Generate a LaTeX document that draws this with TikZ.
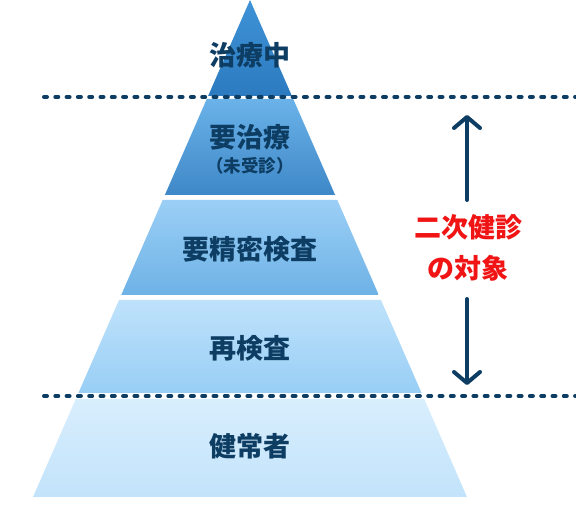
\documentclass[tikz,border=0pt]{standalone}
\usepackage{fontspec}
\newfontfamily\jp{Noto Sans CJK JP}
\usetikzlibrary{arrows.meta}
\definecolor{navy}{HTML}{0D3D63}
\definecolor{redtxt}{HTML}{F01414}
\definecolor{aT}{HTML}{3F92D6}\definecolor{aB}{HTML}{2C7BC0}
\definecolor{bT}{HTML}{6AB2E8}\definecolor{bB}{HTML}{3F88C8}
\definecolor{cT}{HTML}{9BCFF6}\definecolor{cB}{HTML}{6EB2E6}
\definecolor{dT}{HTML}{BFE2FB}\definecolor{dB}{HTML}{98CEF5}
\definecolor{eT}{HTML}{D8EEFD}\definecolor{eB}{HTML}{C2E3FB}
\tikzset{
  lbl/.style={font=\jp\bfseries\fontsize{27}{30}\selectfont, text=navy, inner sep=0pt},
  sublbl/.style={font=\jp\bfseries\fontsize{17.5}{20}\selectfont, text=navy, inner sep=0pt},
  redlbl/.style={font=\jp\bfseries\fontsize{27}{30}\selectfont, text=redtxt, inner sep=0pt},
  dotline/.style={navy, line width=4pt, line cap=round, dash pattern=on 3pt off 8.3pt},
  bigarrow/.style={navy, line width=4pt, line cap=round,
    -{Straight Barb[length=11pt,width=26pt,line cap=round,line join=round]}}
}
\newcommand{\layer}[4]{%
  \shade[top color=#3, bottom color=#4]
    ({250-0.43662*#1},#1) -- ({250+0.43662*#1},#1) --
    ({250+0.43662*#2},#2) -- ({250-0.43662*#2},#2) -- cycle;}
\begin{document}
\begin{tikzpicture}[x=1pt,y=-1pt]
\useasboundingbox (0,0) rectangle (576,526);
\layer{0}{96}{aT}{aB}
\layer{99}{195}{bT}{bB}
\layer{200}{295}{cT}{cB}
\layer{300}{393}{dT}{dB}
\layer{399}{497}{eT}{eB}
% dotted lines
\coordinate (d1a) at (44,97);  \coordinate (d1b) at (576,97);
\coordinate (d2a) at (44,396); \coordinate (d2b) at (576,396);
\draw[dotline] (d1a) -- (d1b);
\draw[dotline] (d2a) -- (d2b);
% layer labels
\node[lbl] (l1) at (250,55) {治療中};
\node[lbl] (l2) at (250,137) {要治療};
\node[sublbl] (l2s) at (250,166) {（未受診）};
\node[lbl] (l3) at (250,249) {要精密検査};
\node[lbl] (l4) at (250,348) {再検査};
\node[lbl] (l5) at (250,446) {健常者};
% right side
\node[redlbl] (r1) at (468,227) {二次健診};
\node[redlbl] (r2) at (468,268) {の対象};
\coordinate (upS) at (467,200); \coordinate (upE) at (467,115);
\coordinate (dnS) at (467,299); \coordinate (dnE) at (467,385);
\draw[bigarrow] (upS) -- (upE);
\draw[bigarrow] (dnS) -- (dnE);
\end{tikzpicture}
\end{document}
